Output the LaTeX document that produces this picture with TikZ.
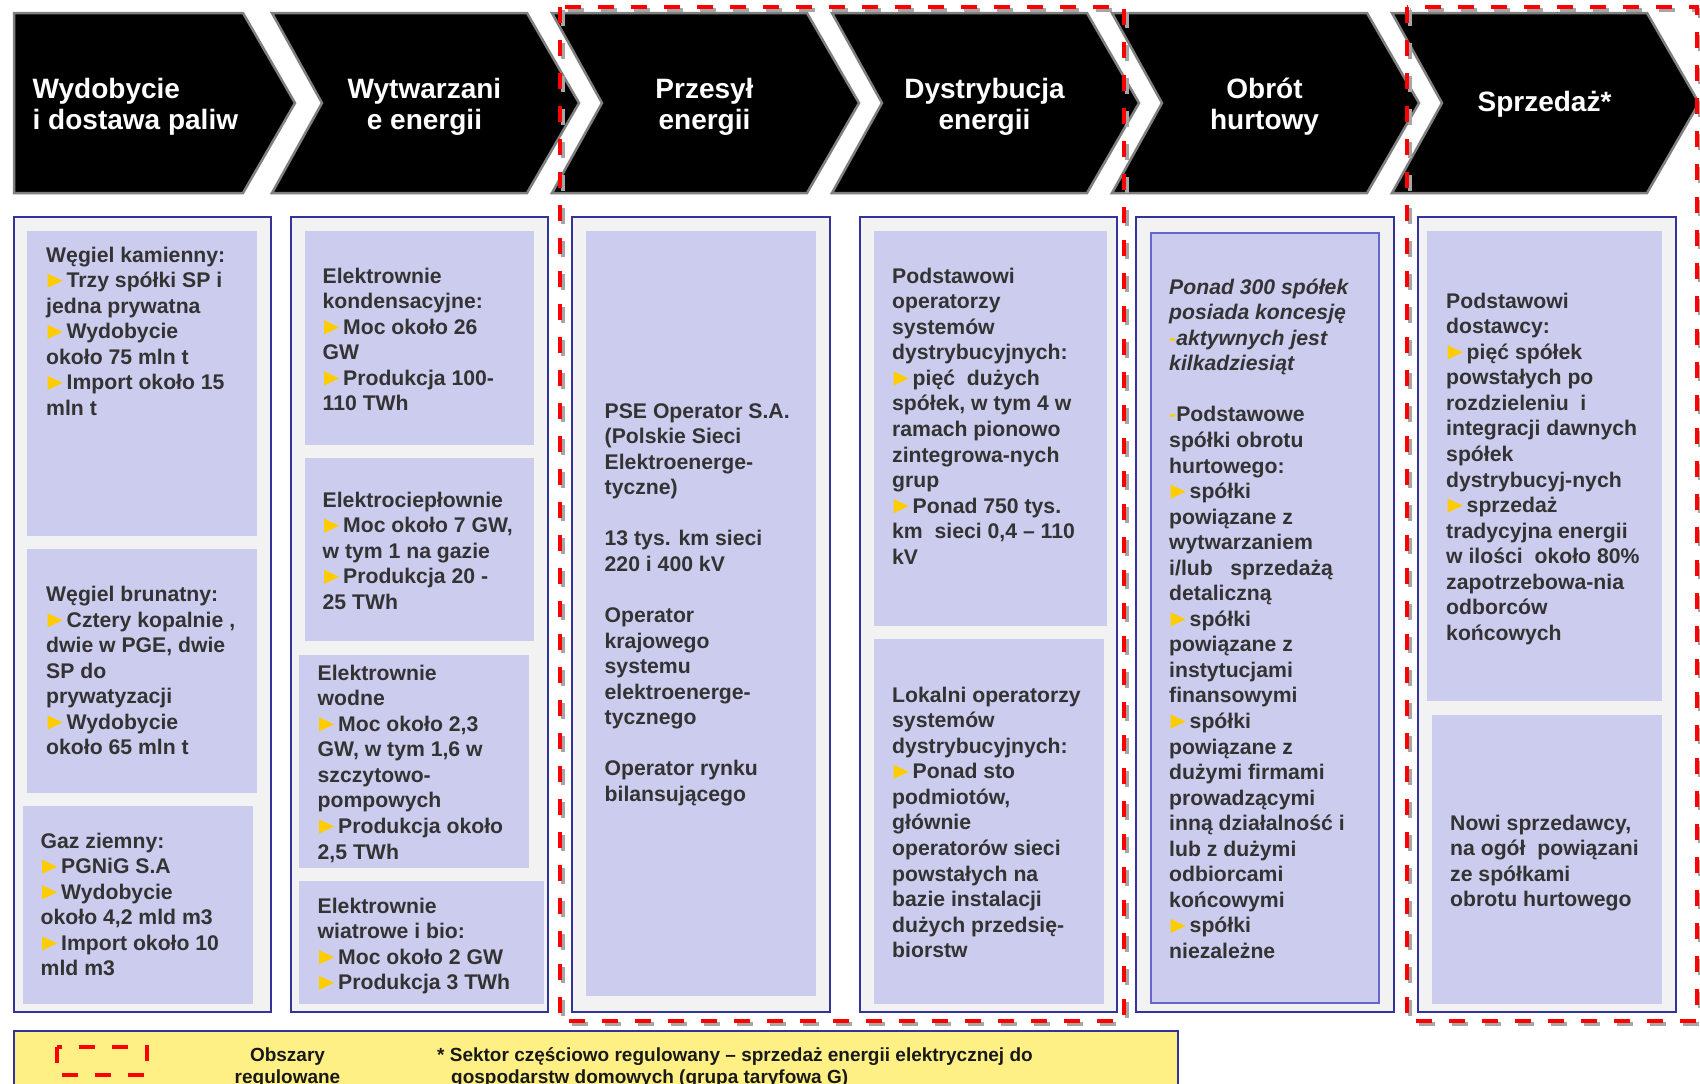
\documentclass[tikz,border=0pt]{standalone}
\usepackage{fontspec}
\setmainfont{Liberation Sans}
\usepackage{xcolor}
\usetikzlibrary{calc}

\definecolor{chevgray}{HTML}{808080}
\definecolor{colblue}{HTML}{333399}
\definecolor{colfill}{HTML}{F2F2F2}
\definecolor{lavender}{HTML}{CCCCEE}
\definecolor{kblue}{HTML}{6666CC}
\definecolor{bodytext}{HTML}{333333}
\definecolor{triyellow}{HTML}{FFCC00}
\definecolor{legendyellow}{HTML}{FFF085}
\definecolor{shadowgray}{HTML}{A6A6A6}

\tikzstyle{chevron} = [fill=black, draw=chevgray, line width=2.5pt]
\tikzstyle{headtext} = [text=white, font=\bfseries\fontsize{28}{31}\selectfont, align=center, inner sep=0pt, anchor=north]
\tikzstyle{column} = [fill=colfill, draw=colblue, line width=2.5pt]
\tikzstyle{panel} = [fill=lavender]
\tikzstyle{infotext} = [text=bodytext, font=\bfseries\fontsize{21.2}{25.55}\selectfont, align=left, inner sep=0pt, anchor=north west]
\tikzstyle{regframe} = [draw=red, line width=4pt, dash pattern=on 16pt off 17pt]
\tikzstyle{regshadow} = [draw=shadowgray, line width=4pt, dash pattern=on 16pt off 17pt]
\tikzstyle{legendtext} = [text=black!90, font=\bfseries\fontsize{19}{21.7}\selectfont, inner sep=0pt]

\newcommand\ytri{\kern1.5pt\tikz[baseline=0pt,x=1pt,y=1pt]\fill[triyellow] (0,0) -- (0,14) -- (15,7) -- cycle;\kern4pt}
\newcommand\infobox[4]{\node[infotext] (#1) at (#2,#3-17.9) {\strut #4};}

\begin{document}
\begin{tikzpicture}[x=1pt, y=-1pt]
    \path[use as bounding box] (0,0) rectangle (1700,1084);
    \clip (0,0) rectangle (1700,1084);

    % value chain
    \draw[chevron] (14,13) -- (243,13) -- (295,103) -- (243,193) -- (14,193) -- cycle;
    \node[headtext, align=left, anchor=north west] (head0) at (32.5,76.3) {\strut Wydobycie\\i dostawa paliw};
    \foreach \k/\txt/\ty in {0/{Wytwarzani\\e energii}/76.3, 1/{Przesył\\energii}/76.3, 2/{Dystrybucja\\energii}/76.3, 3/{Obrót\\hurtowy}/76.3, 4/{Sprzedaż*}/90} {
        \pgfmathsetmacro\L{272+280*\k}
        \draw[chevron] (\L,13) -- ++(255,0) -- ++(52,90) -- ++(-52,90) -- ++(-255,0) -- ++(50,-90) -- cycle;
        \node[headtext] (head\k) at (\L+152.5,\ty) {\strut\txt};
    }

    \foreach \xa/\xb in {14/271, 291/548, 572/830, 860/1117, 1136/1394, 1418/1676}
        \draw[column] (\xa,217) rectangle (\xb,1012);

    \fill[panel] (27,231) rectangle (257,536);
    \fill[panel] (27,549) rectangle (257,793);
    \fill[panel] (23,806) rectangle (253,1004);
    \fill[panel] (305,231) rectangle (534,445);
    \fill[panel] (305,458) rectangle (534,641);
    \fill[panel] (299,655) rectangle (529,868);
    \fill[panel] (299,881) rectangle (544,1004);
    \fill[panel] (586,231) rectangle (816,996);
    \fill[panel] (874,231) rectangle (1107,626);
    \fill[panel] (874,639) rectangle (1104,1004);
    \draw[panel, draw=kblue, line width=2.5pt] (1151,233) rectangle (1379,1003);
    \fill[panel] (1427,231) rectangle (1662,701);
    \fill[panel] (1432,715) rectangle (1662,1004);

    \infobox{coal}{46}{262}{Węgiel kamienny:\\\ytri Trzy spółki SP i\\jedna prywatna\\\ytri Wydobycie\\około 75 mln t\\\ytri Import około 15\\mln t}
    \infobox{lignite}{46}{601.5}{Węgiel brunatny:\\\ytri Cztery kopalnie ,\\dwie w PGE, dwie\\SP do\\prywatyzacji\\\ytri Wydobycie\\około 65 mln t}
    \infobox{gas}{40.5}{848}{Gaz ziemny:\\\ytri PGNiG S.A\\\ytri Wydobycie\\około 4,2 mld m3\\\ytri Import około 10\\mld m3}
    \infobox{condens}{322.5}{283}{Elektrownie\\kondensacyjne:\\\ytri Moc około 26\\GW\\\ytri Produkcja 100-\\110 TWh}
    \infobox{chp}{322.5}{507}{Elektrociepłownie\\\ytri Moc około 7 GW,\\w tym 1 na gazie\\\ytri Produkcja 20 -\\25 TWh}
    \infobox{hydro}{317.5}{680}{Elektrownie\\wodne\\\ytri Moc około 2,3\\GW, w tym 1,6 w\\szczytowo-\\pompowych\\\ytri Produkcja około\\2,5 TWh}
    \infobox{wind}{317.5}{913}{Elektrownie\\wiatrowe i bio:\\\ytri Moc około 2 GW\\\ytri Produkcja 3 TWh}
    \infobox{pse}{604.5}{418}{PSE Operator S.A.\\(Polskie Sieci\\Elektroenerge-\\tyczne)\\[25.55pt]13 tys. km sieci\\220 i 400 kV\\[25.55pt]Operator\\krajowego\\systemu\\elektroenerge-\\tycznego\\[25.55pt]Operator rynku\\bilansującego}
    \infobox{mainosd}{892}{283}{Podstawowi\\operatorzy\\systemów\\dystrybucyjnych:\\\ytri pięć~ dużych\\spółek, w tym 4 w\\ramach pionowo\\zintegrowa-nych\\grup\\\ytri Ponad 750 tys.\\km~ sieci 0,4 – 110\\kV}
    \infobox{localosd}{892}{702}{Lokalni operatorzy\\systemów\\dystrybucyjnych:\\\ytri Ponad sto\\podmiotów,\\głównie\\operatorów sieci\\powstałych na\\bazie instalacji\\dużych przedsię-\\biorstw}
    \infobox{trade}{1169}{294}{\textit{Ponad 300 spółek}\\\textit{posiada koncesję}\\{\color{triyellow}-}\textit{aktywnych jest}\\\textit{kilkadziesiąt}\\[25.55pt]{\color{triyellow}-}Podstawowe\\spółki obrotu\\hurtowego:\\\ytri spółki\\powiązane z\\wytwarzaniem\\i/lub~~ sprzedażą\\detaliczną\\\ytri spółki\\powiązane z\\instytucjami\\finansowymi\\\ytri spółki\\powiązane z\\dużymi firmami\\prowadzącymi\\inną działalność i\\lub z dużymi\\odbiorcami\\końcowymi\\\ytri spółki\\niezależne}
    \infobox{mainsup}{1446}{308}{Podstawowi\\dostawcy:\\\ytri pięć spółek\\powstałych po\\rozdzieleniu~ i\\integracji dawnych\\spółek\\dystrybucyj-nych\\\ytri sprzedaż\\tradycyjna energii\\w ilości~ około 80\%\\zapotrzebowa-nia\\odborców\\końcowych}
    \infobox{newsup}{1450}{830}{Nowi sprzedawcy,\\na ogół~ powiązani\\ze spółkami\\obrotu hurtowego}

    % regulated areas
    \draw[regshadow, shift={(3,3)}] (560,7) rectangle (1124,1021);
    \draw[regshadow, shift={(3,3)}] (1407,7) rectangle (1697,1021);
    \draw[regframe] (560,7) rectangle (1124,1021);
    \draw[regframe] (1407,7) rectangle (1697,1021);

    % legend
    \draw[fill=legendyellow, draw=colblue, line width=2.5pt] (14,1031) rectangle (1178,1110);
    \draw[regframe] (57,1047) rectangle (147,1075);
    \node[legendtext, align=center, anchor=north] (legendlab) at (287.5,1046.5) {\strut Obszary\\regulowane};
    \node[legendtext, align=left, anchor=north west] (legendnote) at (437,1046.5) {\strut * Sektor częściowo regulowany – sprzedaż energii elektrycznej do\\\hspace*{14pt}gospodarstw domowych (grupa taryfowa G)};
\end{tikzpicture}
\end{document}
